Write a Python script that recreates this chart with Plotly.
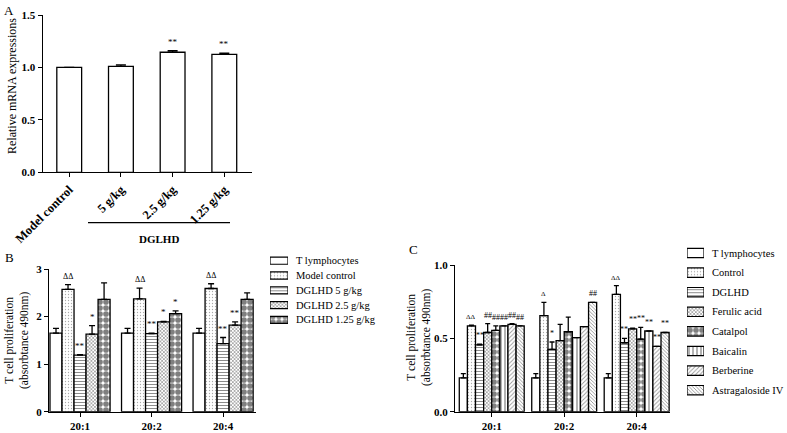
import plotly.graph_objects as go

W, H = 787, 433
def px(p):
    return p / W
def py(p):
    return 1 - p / H

FONT = "Liberation Serif"

# ---------------- data ----------------
a_categories = ["Model control", "5 g/kg", "2.5 g/kg", "1.25 g/kg"]
a_values = [1.00, 1.01, 1.145, 1.125]
a_errors = [0.0, 0.015, 0.015, 0.012]
a_sig = ["", "", "**", "**"]

b_groups = ["20:1", "20:2", "20:4"]
b_series = ["T lymphocytes", "Model control", "DGLHD 5 g/kg", "DGLHD 2.5 g/kg", "DGLHD 1.25 g/kg"]
b_values = [
    [1.65, 1.65, 1.65],
    [2.57, 2.37, 2.59],
    [1.19, 1.64, 1.43],
    [1.63, 1.89, 1.82],
    [2.36, 2.06, 2.36],
]
b_errors = [
    [0.10, 0.10, 0.10],
    [0.10, 0.23, 0.10],
    [0.01, 0.01, 0.13],
    [0.18, 0.01, 0.07],
    [0.35, 0.06, 0.14],
]
b_sig = [
    ["", "", ""],
    ["ΔΔ", "ΔΔ", "ΔΔ"],
    ["**", "**", "**"],
    ["*", "*", "**"],
    ["", "*", ""],
]

c_groups = ["20:1", "20:2", "20:4"]
c_series = ["T lymphocytes", "Control", "DGLHD", "Ferulic acid", "Catalpol",
            "Baicalin", "Berberine", "Astragaloside IV"]
c_values = [
    [0.23, 0.23, 0.23],
    [0.585, 0.655, 0.80],
    [0.455, 0.425, 0.47],
    [0.54, 0.485, 0.565],
    [0.555, 0.545, 0.495],
    [0.585, 0.505, 0.55],
    [0.595, 0.58, 0.445],
    [0.585, 0.745, 0.54],
]
c_errors = [
    [0.03, 0.03, 0.03],
    [0.005, 0.09, 0.06],
    [0.005, 0.05, 0.03],
    [0.06, 0.11, 0.005],
    [0.03, 0.10, 0.08],
    [0.0, 0.0, 0.0],
    [0.005, 0.0, 0.0],
    [0.0, 0.0, 0.0],
]
c_sig = [
    ["", "", ""],
    ["ΔΔ", "Δ", "ΔΔ"],
    ["**", "*", "**"],
    ["##", "", "**"],
    ["##", "", "**"],
    ["##", "", "**"],
    ["##", "", "**"],
    ["##", "##", "**"],
]

# ---------------- styles ----------------
def style(shape="", size=4, solidity=0.3, fg="black"):
    return dict(shape=shape, size=size, solidity=solidity, fgcolor=fg, bgcolor="white")

b_styles = [
    style(""),
    style(".", 3, 0.15, "#555"),
    style("-", 3, 0.3, "black"),
    style("x", 2.5, 0.5, "#333"),
    style(".", 6, 0.7, "black"),
]
c_styles = [
    style(""),
    style(".", 3, 0.15, "#555"),
    style("-", 3, 0.3, "black"),
    style("x", 2.5, 0.5, "#333"),
    style(".", 6, 0.7, "black"),
    style("|", 4, 0.3, "black"),
    style("/", 3, 0.3, "#333"),
    style("\\", 2.5, 0.35, "#222"),
]

LINE = dict(color="black", width=1.3)

fig = go.Figure()
annotations = []

# ---------------- panel A ----------------
fig.add_trace(go.Bar(
    x=list(range(len(a_categories))), y=a_values, width=0.48,
    marker=dict(color="white", line=LINE),
    error_y=dict(type="data", symmetric=False, array=a_errors,
                 arrayminus=[0] * len(a_errors), color="black", thickness=1.3, width=5),
    xaxis="x", yaxis="y", showlegend=False, hoverinfo="skip",
))
for i, s in enumerate(a_sig):
    if s:
        annotations.append(dict(x=i, y=a_values[i] + a_errors[i], xref="x", yref="y",
                                text=s, showarrow=False, xanchor="center", yanchor="bottom", yshift=2,
                                font=dict(family=FONT, size=9, color="black")))

# ---------------- panel B ----------------
nb = len(b_series)
wb = 0.168
for j, name in enumerate(b_series):
    xs = [g + (j - (nb - 1) / 2) * wb for g in range(len(b_groups))]
    fig.add_trace(go.Bar(
        x=xs, y=b_values[j], width=wb,
        marker=dict(color="white", line=LINE, pattern=b_styles[j]),
        error_y=dict(type="data", symmetric=False, array=b_errors[j],
                     arrayminus=[0] * len(b_groups), color="black", thickness=1.3, width=3),
        xaxis="x2", yaxis="y2", showlegend=False, hoverinfo="skip", name=name,
    ))
    for g in range(len(b_groups)):
        s = b_sig[j][g]
        if s:
            annotations.append(dict(x=xs[g], y=b_values[j][g] + b_errors[j][g], xref="x2", yref="y2",
                                    text=s, showarrow=False, xanchor="center", yanchor="bottom", yshift=2,
                                    font=dict(family=FONT, size=8 if "Δ" in s else 9, color="black")))

# ---------------- panel C ----------------
nc = len(c_series)
wc = 0.112
for j, name in enumerate(c_series):
    xs = [g + (j - (nc - 1) / 2) * wc for g in range(len(c_groups))]
    fig.add_trace(go.Bar(
        x=xs, y=c_values[j], width=wc,
        marker=dict(color="white", line=LINE, pattern=c_styles[j]),
        error_y=dict(type="data", symmetric=False, array=c_errors[j],
                     arrayminus=[0] * len(c_groups), color="black", thickness=1.3, width=2.5),
        xaxis="x3", yaxis="y3", showlegend=False, hoverinfo="skip", name=name,
    ))
    for g in range(len(c_groups)):
        s = c_sig[j][g]
        if s:
            annotations.append(dict(x=xs[g], y=c_values[j][g] + c_errors[j][g], xref="x3", yref="y3",
                                    text=s, showarrow=False, xanchor="center", yanchor="bottom", yshift=2,
                                    font=dict(family=FONT, size=7 if "Δ" in s else 8, color="black")))

# ---------------- custom legends ----------------
def add_legend(names, styles, xa, ya):
    for i, (n, st) in enumerate(zip(names, styles)):
        fig.add_trace(go.Bar(
            x=[1], y=[i], base=[0], orientation="h", width=0.48,
            marker=dict(color="white", line=dict(color="black", width=1.2), pattern=st),
            xaxis=xa, yaxis=ya, showlegend=False, hoverinfo="skip",
        ))
        annotations.append(dict(x=1, y=i, xref=xa, yref=ya, text=n, showarrow=False,
                                xanchor="left", yanchor="middle", xshift=6,
                                font=dict(family=FONT, size=10.5, color="black")))

add_legend(b_series, b_styles, "x4", "y4")
add_legend(c_series, c_styles, "x5", "y5")

# ---------------- axis titles & labels ----------------
def paper_text(text, x, y, size, angle=0):
    return dict(text=text, x=px(x), y=py(y), xref="paper", yref="paper", showarrow=False,
                xanchor="center", yanchor="middle", textangle=angle,
                font=dict(family=FONT, size=size, color="black"))

annotations += [
    paper_text("Relative mRNA expressions", 12, 86, 12, -90),
    paper_text("T cell proliferation<br>(absorbtance 490nm)", 17, 340, 11.5, -90),
    paper_text("T cell proliferation<br>(absorbtance 490nm)", 419, 337, 11.5, -90),
    paper_text("A", 9, 10, 13),
    paper_text("B", 9, 257, 13),
    paper_text("C", 413, 249, 13),
    paper_text("<b>DGLHD</b>", 159, 239, 11),
]

shapes = [dict(type="line", xref="paper", yref="paper", x0=px(88), x1=px(230),
               y0=py(222.7), y1=py(222.7), line=dict(color="black", width=1.3))]

tickfont = dict(family=FONT, size=11, color="black", weight="bold")
axis_common = dict(showline=True, linecolor="black", linewidth=1.3, ticks="outside",
                   ticklen=4, tickwidth=1.3, tickcolor="black", showgrid=False,
                   zeroline=False, tickfont=tickfont, automargin=False)

hidden = dict(visible=False, showgrid=False, zeroline=False, fixedrange=True, automargin=False)

a_xaxis = dict(axis_common)
a_xaxis["tickfont"] = dict(family=FONT, size=12.5, color="black", weight="bold")

fig.update_layout(
    width=W, height=H, margin=dict(l=0, r=0, t=0, b=0, autoexpand=False),
    paper_bgcolor="white", plot_bgcolor="rgba(0,0,0,0)",
    barmode="overlay", showlegend=False,
    font=dict(family=FONT, color="black"),
    xaxis=dict(domain=[px(42.7), px(251.7)], range=[-0.513, 3.53], anchor="y",
               tickmode="array", tickvals=list(range(len(a_categories))), ticktext=a_categories,
               tickangle=-45, **a_xaxis),
    yaxis=dict(domain=[py(172.3), py(15)], range=[0, 1.5], anchor="x",
               tickmode="array", tickvals=[0, 0.5, 1.0, 1.5], ticktext=["0.0", "0.5", "1.0", "1.5"],
               **axis_common),
    xaxis2=dict(domain=[px(49), px(256)], range=[-0.434, 2.46], anchor="y2",
                tickmode="array", tickvals=list(range(len(b_groups))), ticktext=b_groups,
                **axis_common),
    yaxis2=dict(domain=[py(411.7), py(269)], range=[0, 3], anchor="x2",
                tickmode="array", tickvals=[0, 1, 2, 3], **axis_common),
    xaxis3=dict(domain=[px(455), px(670)], range=[-0.507, 2.46], anchor="y3",
                tickmode="array", tickvals=list(range(len(c_groups))), ticktext=c_groups,
                **axis_common),
    yaxis3=dict(domain=[py(411.7), py(265)], range=[0, 1.0], anchor="x3",
                tickmode="array", tickvals=[0, 0.5, 1.0], ticktext=["0.0", "0.5", "1.0"],
                **axis_common),
    xaxis4=dict(domain=[px(270), px(288)], range=[0, 1], anchor="y4", **hidden),
    yaxis4=dict(domain=[py(260.7 + 14.8 * 4.5), py(260.7 - 14.8 * 0.5)], range=[4.5, -0.5],
                anchor="x4", **hidden),
    xaxis5=dict(domain=[px(687), px(704)], range=[0, 1], anchor="y5", **hidden),
    yaxis5=dict(domain=[py(253 + 19.6 * 7.5), py(253 - 19.6 * 0.5)], range=[7.5, -0.5],
                anchor="x5", **hidden),
    annotations=annotations,
    shapes=shapes,
)

fig.write_html(
    "out.html",
    config={"displayModeBar": False},
    post_script="document.body.style.margin='0';document.body.style.overflow='hidden';",
)
